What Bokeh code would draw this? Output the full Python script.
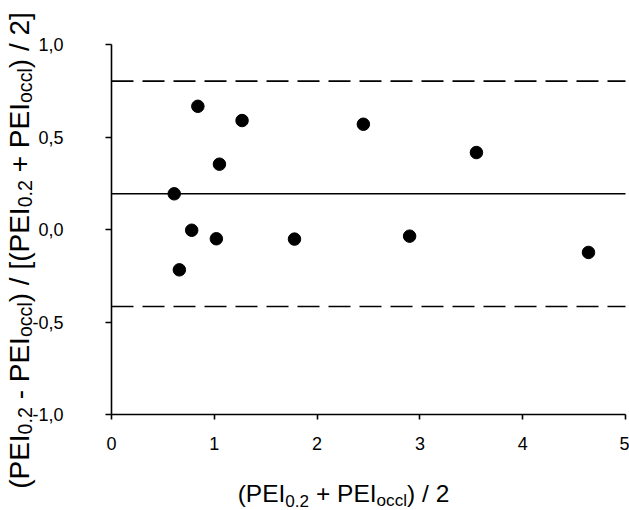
import math
from bokeh.plotting import figure
from bokeh.models import Label, FixedTicker, Range1d, LinearAxis
from bokeh.embed import file_html
from bokeh.resources import INLINE

# ---- data ----
mean_x = [0.84, 1.27, 2.45, 3.55, 1.05, 0.61, 0.78, 1.02, 1.78, 2.90, 4.64, 0.66]
rel_diff = [0.666, 0.589, 0.569, 0.416, 0.353, 0.193, -0.004, -0.050, -0.052, -0.036, -0.124, -0.218]
bias = 0.193
upper_loa = 0.802
lower_loa = -0.416
x_ticks = [0, 1, 2, 3, 4, 5]
y_ticks = [-1.0, -0.5, 0.0, 0.5, 1.0]
y_tick_labels = ["-1,0", "-0,5", "0,0", "0,5", "1,0"]
x_title = [("(PEI", False), ("0.2", True), (" + PEI", False), ("occl", True), (") / 2", False)]
y_title = [("(PEI", False), ("0.2", True), (" - PEI", False), ("occl", True),
           (") / [(PEI", False), ("0.2", True), (" + PEI", False), ("occl", True), (") / 2]", False)]

FONT = "Liberation Sans"
WIDTH, HEIGHT = 629, 510
XMIN, XMAX = x_ticks[0], x_ticks[-1]
YMIN, YMAX = y_ticks[0], y_ticks[-1]
# pixel placement of the data box inside the figure
X0PX, XPU = 111, 102.8   # pixel of x = XMIN, pixels per x unit
Y0PX, YPU = 414, 185.0   # pixel (from top) of y = YMIN, pixels per y unit

x_range = Range1d(XMIN - X0PX / XPU, XMIN + (WIDTH - X0PX) / XPU)
y_range = Range1d(YMIN - (HEIGHT - Y0PX) / YPU, YMIN + Y0PX / YPU)

p = figure(width=WIDTH, height=HEIGHT, x_range=x_range, y_range=y_range,
           output_backend="svg", toolbar_location=None,
           x_axis_location=None, y_axis_location=None, min_border=0)
p.outline_line_color = None
p.xgrid.visible = False
p.ygrid.visible = False
p.background_fill_color = "white"
p.border_fill_color = "white"

xaxis = LinearAxis(fixed_location=YMIN, bounds=(XMIN, XMAX), ticker=FixedTicker(ticks=x_ticks))
yaxis = LinearAxis(fixed_location=XMIN, bounds=(YMIN, YMAX), ticker=FixedTicker(ticks=y_ticks))
p.add_layout(xaxis, "below")
p.add_layout(yaxis, "left")

for ax in (xaxis, yaxis):
    ax.axis_line_width = 1.6
    ax.axis_line_color = "black"
    ax.major_tick_line_width = 1.6
    ax.major_tick_line_color = "black"
    ax.minor_tick_line_color = None
    ax.major_tick_in = 0
    ax.major_label_text_font = FONT
    ax.major_label_text_font_size = "18px"
    ax.major_label_text_color = "black"

xaxis.major_tick_out = 5
xaxis.major_label_standoff = 17
yaxis.major_tick_out = 6
yaxis.major_label_standoff = 42
yaxis.major_label_overrides = {t: s for t, s in zip(y_ticks, y_tick_labels)}

# mean difference and limits of agreement
p.segment(x0=[XMIN], y0=[bias], x1=[XMAX], y1=[bias], line_color="black", line_width=1.6)
p.segment(x0=[XMIN, XMIN], y0=[upper_loa, lower_loa], x1=[XMAX, XMAX], y1=[upper_loa, lower_loa],
          line_color="black", line_width=1.6, line_dash="22 9")

p.scatter(mean_x, rel_diff, size=12.5, color="black")

# ---- axis titles with subscripts ----
W = {'(': 333, ')': 333, 'P': 667, 'E': 667, 'I': 278, '0': 556, '.': 278, '2': 556,
     ' ': 278, '+': 584, '-': 333, '/': 278, '[': 278, ']': 278, 'o': 556, 'c': 500, 'l': 222}


def tw(s, size):
    return sum(W.get(ch, 556) for ch in s) / 1000.0 * size


def dx(px):
    return XMIN + (px - X0PX) / XPU


def dy(py):
    return YMIN + (Y0PX - py) / YPU


SUB = 0.7


def pieces_layout(pieces, size):
    """return (offset_px, stripped_text, font_size, is_sub) items and total length"""
    out, pos = [], 0.0
    for t, sub in pieces:
        s = size * SUB if sub else size
        lead = len(t) - len(t.lstrip(" "))
        out.append((pos + tw(" " * lead, s), t.strip(" "), s, sub))
        pos += tw(t, s)
    return out, pos


# x title
XTS, XSHIFT = 24.5, 7
items, total = pieces_layout(x_title, XTS)
cx, base = 343, 493
start = cx - total / 2
for off, t, s, sub in items:
    p.add_layout(Label(x=dx(start + off), y=dy(base + (XSHIFT if sub else 0)), text=t,
                       text_font=FONT, text_font_size=f"{s:.1f}px", text_color="black",
                       text_align="left", text_baseline="alphabetic"))

# y title (rotated, reading bottom to top)
YTS, YSHIFT = 28.0, 5
items, total = pieces_layout(y_title, YTS)
cy, basex = 250, 19
start = cy + total / 2
for off, t, s, sub in items:
    p.add_layout(Label(x=dx(basex + (YSHIFT if sub else 0)), y=dy(start - off), text=t,
                       angle=math.pi / 2,
                       text_font=FONT, text_font_size=f"{s:.1f}px", text_color="black",
                       text_align="left", text_baseline="alphabetic"))

open("out.html", "w").write(file_html(p, INLINE))
